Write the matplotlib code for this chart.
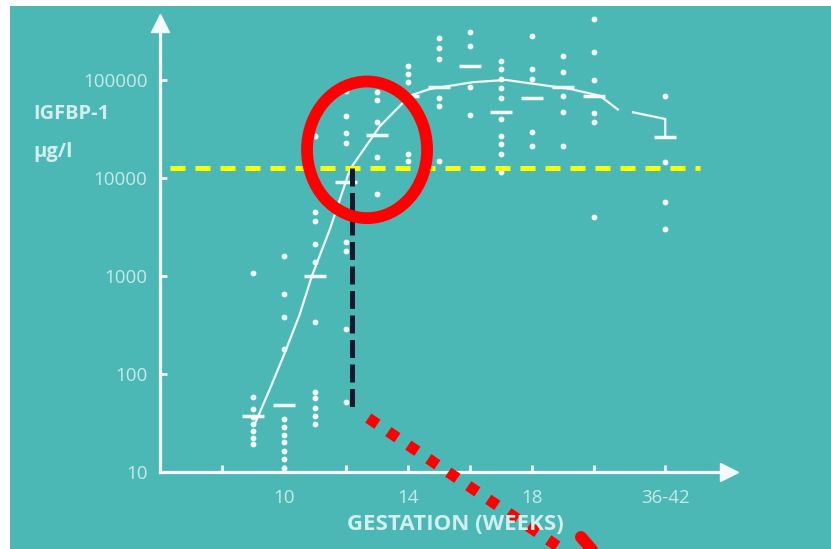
import numpy as np
import matplotlib.pyplot as plt
from matplotlib.patches import Rectangle, Ellipse

plt.rcParams['font.family'] = ['Open Sans', 'DejaVu Sans']

# gestation groups (36-42 weeks is drawn at position 22.3)
weeks = [9, 10, 11, 12, 13, 14, 15, 16, 17, 18, 19, 20, 22.3]
values = [
    [1070, 58, 44, 36, 31, 26, 22, 19.5],
    [1600, 650, 380, 180, 35, 29, 24, 20, 16.5, 13.5, 11],
    [27000, 4500, 3640, 2130, 1390, 340, 66, 57, 45, 37, 31],
    [78000, 43000, 29000, 23000, 2240, 1800, 290, 52],
    [76000, 63000, 37000, 16300, 6900],
    [138000, 115000, 96000, 17400, 14800],
    [265000, 210000, 163000, 65000, 54000, 14800],
    [310000, 222000, 85000, 44000],
    [155000, 128000, 102000, 82000, 65000, 40000, 27000, 22000, 17500, 11500],
    [280000, 128000, 102000, 29500, 21300],
    [175000, 120000, 68000, 47000, 21000],
    [420000, 193000, 100000, 46000, 37000, 4000],
    [68000, 14500, 5700, 3000],
]
medians = [37, 48, 1000, 9100, 27500, 69000, 85000, 138000, 47000, 65000, 85000, 69000, 26000]

curve_weeks = [9.06, 9.55, 10.03, 10.5, 10.9, 11.48, 12.13, 13.1, 14.06, 14.71, 16.1, 17.16, 18.1, 19.23, 20.19, 20.77]
curve_vals = [31, 71, 166, 400, 1000, 3000, 12300, 34000, 69000, 81000, 95000, 100000, 91000, 81000, 69000, 50000]
term_weeks = [21.26, 22.3, 22.3]
term_vals = [46800, 40000, 26000]

tick_pos = [8, 10, 12, 14, 16, 18, 20, 22.3]
tick_lab = ['', '10', '', '14', '', '18', '', '36-42']
yticks = [10, 100, 1000, 10000, 100000]

cutoff = 12600
cut_week = 12.19

teal = '#4bb8b5'
pale = '#d2efed'
tickc = '#c6eae8'
white = '#f2fbfa'

fig = plt.figure(figsize=(8.31, 5.49), dpi=100)
fig.patch.set_facecolor('white')
fig.patches.append(Rectangle((10 / 831, 0), 1, 543 / 549, transform=fig.transFigure,
                             facecolor=teal, edgecolor='none', zorder=-5))

ax = fig.add_axes([160 / 831, 77 / 549, 580 / 831, 457 / 549])
ax.set_zorder(2)
ax.set_facecolor('none')
ax.set_yscale('log')
ax.set_xlim(6, 24.71)
ax.set_ylim(10, 10 ** 5.663)

for s in ['top', 'right']:
    ax.spines[s].set_visible(False)
for s in ['left', 'bottom']:
    ax.spines[s].set_color(white)
    ax.spines[s].set_linewidth(2.3)
ax.spines['left'].set_bounds(10, 10 ** 5.5)
ax.spines['bottom'].set_bounds(6, 24.13)
ax.plot([6], [10 ** 5.58], marker='^', ms=13, color=white, clip_on=False)
ax.plot([24.35], [10], marker='>', ms=13, color=white, clip_on=False)

ax.set_yticks(yticks)
ax.set_yticklabels([str(v) for v in yticks])
ax.yaxis.set_minor_locator(plt.NullLocator())
ax.set_xticks(tick_pos)
ax.set_xticklabels(tick_lab)
ax.tick_params(axis='y', direction='in', length=5, width=2, color=white,
               labelcolor=tickc, labelsize=13.5, pad=9)
ax.tick_params(axis='x', direction='in', length=5, width=2, color=white,
               labelcolor=tickc, labelsize=13.5, pad=12)

for w, vals in zip(weeks, values):
    ax.plot([w] * len(vals), vals, 'o', ms=4.2, color=white, mec='none', clip_on=False)
ax.plot(weeks, medians, '_', ms=16, mew=2.5, color=white)
ax.plot(curve_weeks, curve_vals, '-', lw=1.6, color=white)
ax.plot(term_weeks, term_vals, '-', lw=1.6, color=white)

fig.text(33 / 831, 1 - 114 / 549, 'IGFBP-1', color=pale, fontsize=14.5,
         fontweight='bold', va='center', ha='left')
fig.text(33 / 831, 1 - 152 / 549, 'µg/l', color=pale, fontsize=14.5,
         fontweight='bold', va='center', ha='left')
fig.text(455 / 831, 1 - 525 / 549, 'GESTATION (WEEKS)', color=pale, fontsize=16,
         fontweight='bold', va='center', ha='center')

# highlight overlays
ax.plot([6.32, 23.42], [cutoff, cutoff], color='#ffff00', lw=3.6,
        dashes=(3, 2), solid_capstyle='butt', dash_capstyle='butt', zorder=5)
ax.plot([cut_week, cut_week], [cutoff, 42], color='#121a2c', lw=3.6,
        dashes=(3.6, 1.3), dash_capstyle='butt', zorder=5)
ax.add_patch(Ellipse((0.357, 0.705), 0.207, 0.299, transform=ax.transAxes,
                     fill=False, edgecolor='red', lw=8.5, zorder=6))
ax.plot([12.72, 19.06], [35.5, 1.56], color='red', lw=7.9, dashes=(1, 1.2),
        dash_capstyle='butt', clip_on=False, zorder=6)
ax.plot([19.58, 19.94], [2.17, 1.6], color='red', lw=8.6,
        solid_capstyle='round', clip_on=False, zorder=6)

plt.savefig('out.png', dpi=100, facecolor='white')
